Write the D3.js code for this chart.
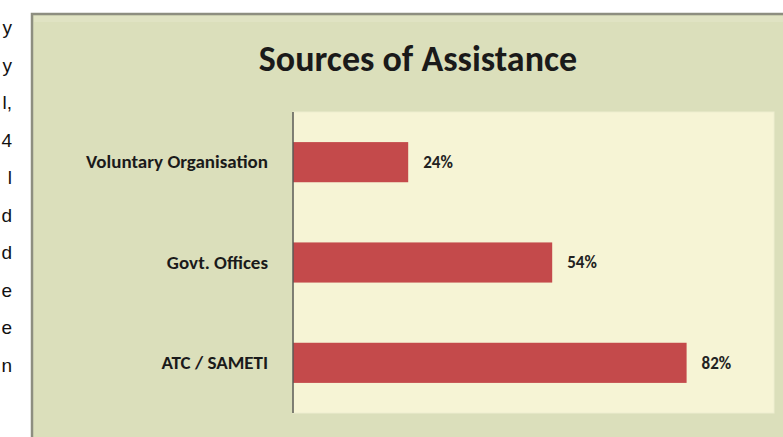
<!DOCTYPE html>
<html>
<head>
<meta charset="utf-8">
<script src="https://cdn.jsdelivr.net/npm/d3@7"></script>
<style>
  html, body { margin: 0; padding: 0; background: #ffffff; overflow: hidden; }
  svg { display: block; }
</style>
</head>
<body>
<svg id="chart" width="783" height="437"></svg>
<script>
// Sources of assistance, share of respondents (%)
const categories = ["Voluntary Organisation", "Govt. Offices", "ATC / SAMETI"];
const values = [24, 54, 82];
const valueLabels = ["24%", "54%", "82%"];
const chartTitle = "Sources of Assistance";
// Line endings of the neighbouring paragraph text
const sideText = ["y", "y", "l,", "4", "l", "d", "d", "e", "e", "n"];

const W = 783, H = 437;
const svg = d3.select("#chart");
const font = "Carlito, Lato, 'Open Sans', sans-serif";

// paragraph text at the left edge
svg.append("g")
  .selectAll("text")
  .data(sideText)
  .join("text")
  .attr("x", 12)
  .attr("y", (d, i) => 34 + i * 37.5)
  .attr("text-anchor", "end")
  .attr("font-family", "'Liberation Sans', Arial, sans-serif")
  .attr("font-size", 19)
  .attr("fill", "#111")
  .text(d => d);

// chart area
const box = { x: 32, y: 14 };
svg.append("rect")
  .attr("x", box.x).attr("y", box.y)
  .attr("width", W - box.x + 10).attr("height", H - box.y + 10)
  .attr("fill", "#dbdfbb")
  .attr("stroke", "#8d8e80").attr("stroke-width", 2.5);
svg.append("rect")
  .attr("x", box.x + 2).attr("y", box.y + 2)
  .attr("width", W - box.x).attr("height", 6)
  .attr("fill", "#e1e3c6").attr("opacity", 0.8);

// plot area
const plot = { left: 293, right: 774, top: 112, bottom: 413 };

const x = d3.scaleLinear().domain([0, 100]).range([plot.left, plot.right - 1]);
const y = d3.scaleBand().domain(categories)
  .range([plot.top, plot.bottom]).paddingInner(0.6).paddingOuter(0.3);

svg.append("rect")
  .attr("x", plot.left).attr("y", plot.top)
  .attr("width", plot.right - plot.left).attr("height", plot.bottom - plot.top)
  .attr("fill", "#f6f4d5")
  .attr("stroke", "#eeeed0").attr("stroke-width", 1);

// bars
svg.append("g")
  .selectAll("rect")
  .data(values)
  .join("rect")
  .attr("x", x(0))
  .attr("y", (d, i) => y(categories[i]))
  .attr("width", d => x(d) - x(0))
  .attr("height", y.bandwidth())
  .attr("fill", "#c44a4b");

// value labels
svg.append("g")
  .selectAll("text")
  .data(values)
  .join("text")
  .attr("x", d => x(d) + 15)
  .attr("y", (d, i) => y(categories[i]) + y.bandwidth() / 2)
  .attr("dy", "0.35em")
  .attr("font-family", font)
  .attr("font-weight", "bold")
  .attr("font-size", 17)
  .attr("fill", "#222")
  .text((d, i) => valueLabels[i]);

// category axis
const yAxis = d3.axisLeft(y).tickSize(0).tickPadding(25);
const gy = svg.append("g")
  .attr("transform", `translate(${plot.left},0)`)
  .call(yAxis);
gy.select(".domain")
  .attr("d", `M0,${plot.top}V${plot.bottom}`)
  .attr("stroke", "#5a5a55").attr("stroke-width", 1.5);
gy.selectAll("text")
  .attr("font-family", font)
  .attr("font-weight", "bold")
  .attr("font-size", 19)
  .attr("fill", "#1a1a1a");

// title
svg.append("text")
  .attr("x", 418)
  .attr("y", 71)
  .attr("text-anchor", "middle")
  .attr("font-family", font)
  .attr("font-weight", "bold")
  .attr("font-size", 36)
  .attr("fill", "#1a1a1a")
  .text(chartTitle);
</script>
</body>
</html>
